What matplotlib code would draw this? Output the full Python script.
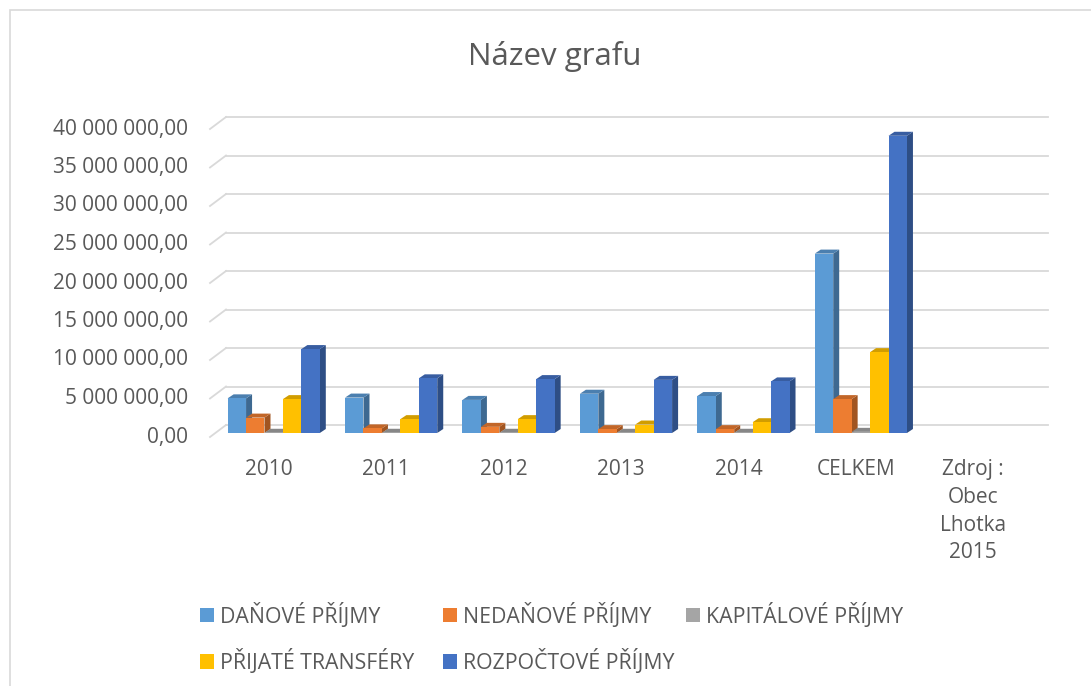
import numpy as np
import matplotlib.pyplot as plt
import matplotlib.transforms as mtransforms
from matplotlib.patches import Polygon, Rectangle
from matplotlib.colors import to_rgb

plt.rcParams['font.family'] = ['Open Sans', 'DejaVu Sans']

categories = ["2010", "2011", "2012", "2013", "2014", "CELKEM", "Zdroj :\nObec\nLhotka\n2015"]
series_names = ["DAŇOVÉ PŘÍJMY", "NEDAŇOVÉ PŘÍJMY", "KAPITÁLOVÉ PŘÍJMY",
                "PŘIJATÉ TRANSFÉRY", "ROZPOČTOVÉ PŘÍJMY"]
danove = [4500000, 4600000, 4300000, 5100000, 4800000, 23300000]
nedanove = [2000000, 600000, 800000, 500000, 500000, 4400000]
kapitalove = [30000, 30000, 30000, 30000, 30000, 150000]
prijate = [4400000, 1800000, 1800000, 1100000, 1400000, 10500000]
rozpoctove = [10900000, 7100000, 7000000, 6900000, 6700000, 38600000]
yticks = [0, 5000000, 10000000, 15000000, 20000000, 25000000, 30000000, 35000000, 40000000]

all_series = [danove, nedanove, kapitalove, prijate, rozpoctove]
colors = ["#5B9BD5", "#ED7D31", "#A5A5A5", "#FFC000", "#4472C4"]
text_col = "#595959"
grid_col = "#D9D9D9"


def shade(c, f):
    r, g, b = to_rgb(c)
    return (r * f, g * f, b * f)


W, H = 1091, 686
fig = plt.figure(figsize=(W / 100, H / 100), dpi=100)

# axes: front plane from x=210..1032 px, y value 0 at 437 px, 40M at 129 px (from top)
ax = fig.add_axes([210 / W, (H - 437) / H, (1032 - 210) / W, (437 - 129) / H])
ax.set_xlim(-0.5, 6.5)
ax.set_ylim(0, 40000000)
for s in ax.spines.values():
    s.set_visible(False)
ax.patch.set_visible(False)

ident = mtransforms.IdentityTransform()

# back wall gridlines with left diagonal
back = mtransforms.offset_copy(ax.transData, x=16, y=12, units='dots')
for v in yticks:
    p0 = ax.transData.transform((-0.5, v))
    ax.add_line(plt.Line2D([p0[0], p0[0] + 16], [p0[1], p0[1] + 12], transform=ident,
                           color=grid_col, lw=1.3, zorder=0, clip_on=False))
    ax.plot([-0.5, 6.5], [v, v], transform=back, color=grid_col, lw=1.3, zorder=0, clip_on=False)

# pseudo-3D columns
front = mtransforms.offset_copy(ax.transData, x=5, y=4, units='dots')
bw = 0.157
ddx, ddy = 6, 4
idx = np.arange(len(danove))
handles = []
for j, (vals, col, name) in enumerate(zip(all_series, colors, series_names)):
    xs = idx + (j - 2) * bw
    bars = ax.bar(xs, vals, bw, color=col, transform=front, zorder=10 * j + 3,
                  clip_on=False, label=name, linewidth=0)
    handles.append(bars)
    for x, v in zip(xs, vals):
        xl, yb = front.transform((x - bw / 2, 0))
        xr, yt = front.transform((x + bw / 2, v))
        side = Polygon([(xr, yb), (xr + ddx, yb + ddy), (xr + ddx, yt + ddy), (xr, yt)],
                       closed=True, transform=ident, facecolor=shade(col, 0.68),
                       edgecolor='none', zorder=10 * j + 1, clip_on=False)
        top = Polygon([(xl, yt), (xr, yt), (xr + ddx, yt + ddy), (xl + ddx, yt + ddy)],
                      closed=True, transform=ident, facecolor=shade(col, 0.82),
                      edgecolor='none', zorder=10 * j + 2, clip_on=False)
        ax.add_patch(side)
        ax.add_patch(top)

ax.set_xticks(range(len(categories)), categories)
ax.set_yticks(yticks, [f"{v:,.2f}".replace(",", " ").replace(".", ",") for v in yticks])
ax.tick_params(axis='both', length=0, labelsize=15, colors=text_col)
ax.tick_params(axis='x', pad=16)
ax.tick_params(axis='y', pad=16)
for t in ax.get_xticklabels():
    t.set_linespacing(1.42)
for t in ax.get_yticklabels():
    t.set_va('center')

fig.text(555 / W, (H - 57) / H, "Název grafu", ha='center', va='center',
         fontsize=22.5, color=text_col)

# legend: three columns, row-major like Excel
col_x = [189, 432, 675]
columns = [[0, 3], [1, 4], [2]]
for cx, members in zip(col_x, columns):
    leg = fig.legend([handles[k] for k in members], [series_names[k] for k in members],
                     loc='upper left', bbox_to_anchor=(cx / W, (H - 592) / H), ncol=1,
                     frameon=False, fontsize=15.3, handlelength=0.66, handleheight=0.66,
                     handletextpad=0.3, labelspacing=1.0, borderpad=0)
    for t in leg.get_texts():
        t.set_color(text_col)

# chart area border
fig.patches.append(Rectangle((10 / W, -0.05), 1.2, (H - 10) / H + 0.05, transform=fig.transFigure,
                             fill=False, edgecolor=grid_col, lw=1.2))

fig.savefig("out.png", dpi=100)
